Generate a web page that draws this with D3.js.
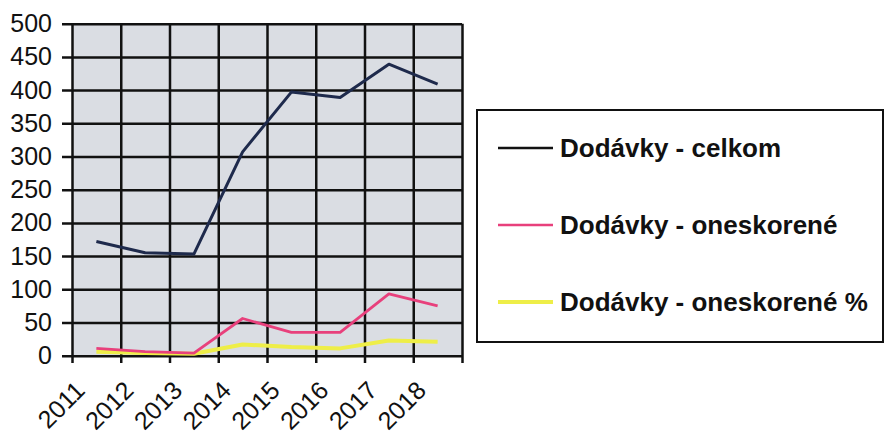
<!DOCTYPE html>
<html><head><meta charset="utf-8">
<script src="https://cdn.jsdelivr.net/npm/d3@7"></script>
<style>
html,body{margin:0;padding:0;background:#fff;}
svg{display:block;font-family:"Liberation Sans",Arial,sans-serif;}
</style></head>
<body><svg id="c" width="885" height="436"></svg>
<script>
const years = ["2011","2012","2013","2014","2015","2016","2017","2018"];
const celkom = [172, 155, 153, 307, 397, 389, 439, 409];
const oneskorene = [11, 6, 4, 56, 35, 35, 93, 75];
const oneskorenePct = [6, 4, 3, 17, 13, 11, 23, 21];
const yTicks = [0,50,100,150,200,250,300,350,400,450,500];
const seriesNames = ["Dodávky - celkom","Dodávky - oneskorené","Dodávky - oneskorené %"];

const svg = d3.select("#c");
const L = 72, R = 462, T = 23.7, B = 355.7;
const x = d3.scaleBand().domain(years).range([L, R]).padding(0);
const y = d3.scaleLinear().domain([0, 500]).range([B, T]);

svg.append("rect").attr("x", L).attr("y", T).attr("width", R - L).attr("height", B - T).attr("fill", "#dadde3");

// horizontal gridlines + y labels
const ya = svg.append("g").attr("transform", `translate(${L-10},0)`)
  .call(d3.axisLeft(y).tickValues(yTicks).tickSize(-(R - L + 10)).tickPadding(10).tickFormat(d3.format("d")));
ya.select(".domain").remove();
ya.selectAll(".tick line").attr("stroke", "#111").attr("stroke-width", 2.5);
ya.selectAll(".tick text").attr("font-size", 25).attr("fill", "#111").attr("font-family", "Liberation Sans, Arial, sans-serif");

// vertical gridlines at category boundaries
const xb = d3.scaleLinear().domain([0, years.length]).range([L, R]);
const xa = svg.append("g").attr("transform", `translate(0,363)`)
  .call(d3.axisBottom(xb).tickValues(d3.range(years.length + 1)).tickSize(-(363 - T)).tickFormat(""));
xa.select(".domain").remove();
xa.selectAll(".tick line").attr("stroke", "#111").attr("stroke-width", 2.5);

// category labels
svg.append("g").selectAll("text").data(years).join("text")
  .attr("transform", d => `translate(${x(d) + x.bandwidth()/2 - 10},392) rotate(-45)`)
  .attr("text-anchor", "end").attr("font-size", 25).attr("fill", "#111").text(d => d);

const line = d3.line().x((d, i) => x(years[i]) + x.bandwidth()/2).y(d => y(d));
const colors = ["#1e2a4c", "#e8407c", "#eeee48"];
const widths = [3, 2.8, 4];
const data = [celkom, oneskorene, oneskorenePct];
[2, 1, 0].forEach(k => {
  svg.append("path").datum(data[k]).attr("d", line).attr("fill", "none")
    .attr("stroke", colors[k]).attr("stroke-width", widths[k]).attr("stroke-linejoin", "round");
});

// legend
const lg = svg.append("g");
lg.append("rect").attr("x", 477).attr("y", 110).attr("width", 406).attr("height", 232)
  .attr("fill", "#fff").attr("stroke", "#111").attr("stroke-width", 2);
const legY = [148, 225, 302];
const legLineColors = ["#111", "#e8407c", "#eeee48"];
seriesNames.forEach((n, i) => {
  lg.append("line").attr("x1", 498).attr("x2", 553).attr("y1", legY[i]).attr("y2", legY[i])
    .attr("stroke", legLineColors[i]).attr("stroke-width", i === 2 ? 4 : 2.5);
  lg.append("text").attr("x", 560).attr("y", legY[i] + 9).attr("font-size", 26).attr("font-weight", "bold")
    .attr("fill", "#111").text(n);
});
</script></body></html>
